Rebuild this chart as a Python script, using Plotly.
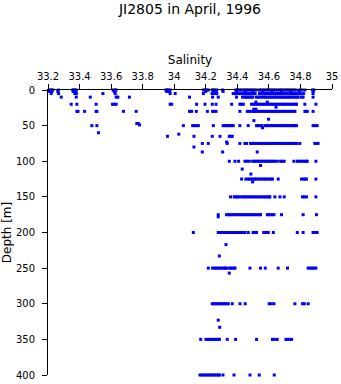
import plotly.graph_objects as go

# Salinity readings (PSU) at each sampled depth (m)
sal_d0 = [33.215,33.222,33.230,33.267,33.356,33.362,33.370,33.380,33.613,33.626,33.632,33.947,33.955,33.962,33.974,
          34.185,34.195,34.205,34.216,34.241,34.250,34.258,34.270,34.307,34.390,34.401,34.412,34.424,34.436,34.447,
          34.459,34.470,34.482,34.494,34.506,34.520,34.540,34.551,34.563,34.574,34.586,34.597,34.609,34.620,34.632,
          34.643,34.655,34.667,34.678,34.690,34.701,34.713,34.725,34.736,34.748,34.760,34.772,34.796,34.810,34.828,
          34.876,34.885]
sal_d2 = [33.205,33.225,33.262,33.360,33.375,33.620,33.952,33.968,34.200,34.250,34.265,34.310,34.395,34.450,34.500,
          34.560,34.620,34.680,34.740,34.790,34.880]
sal_d5 = [33.195,33.220,33.267,33.370,33.380,33.548,33.626,33.974,34.006,34.185,34.240,34.255,34.270,34.374,34.385,
          34.396,34.408,34.419,34.431,34.443,34.454,34.466,34.478,34.489,34.501,34.513,34.540,34.552,34.563,34.575,
          34.587,34.598,34.610,34.622,34.633,34.645,34.657,34.668,34.680,34.692,34.703,34.715,34.727,34.738,34.750,
          34.762,34.773,34.785,34.800,34.820,34.880]
sal_d10 = [33.284,33.379,33.468,33.632,33.643,33.716,34.097,34.243,34.279,34.395,34.433,34.445,34.455,34.465,34.476,
           34.487,34.497,34.520,34.532,34.543,34.555,34.567,34.578,34.590,34.602,34.613,34.625,34.637,34.648,34.660,
           34.672,34.683,34.695,34.707,34.718,34.730,34.742,34.753,34.765,34.777,34.786,34.807,34.817,34.880]
sal_d17 = [34.518,34.590]
sal_d20 = [33.347,33.383,33.505,33.609,33.620,33.632,33.974,33.984,34.142,34.195,34.241,34.265,34.364,34.416,34.427,
           34.438,34.490,34.502,34.513,34.525,34.537,34.548,34.560,34.572,34.583,34.595,34.607,34.618,34.630,34.642,
           34.653,34.665,34.677,34.688,34.700,34.712,34.723,34.735,34.747,34.758,34.770,34.775,34.828,34.898]
sal_d24 = [34.645]
sal_d27 = [34.505,34.518]
sal_d30 = [33.383,33.390,33.432,33.505,33.510,33.678,33.759,34.097,34.110,34.140,34.210,34.243,34.255,34.265,34.416,
           34.463,34.475,34.488,34.500,34.510,34.522,34.533,34.545,34.557,34.568,34.580,34.592,34.603,34.615,34.627,
           34.638,34.650,34.662,34.673,34.685,34.697,34.708,34.720,34.732,34.743,34.755,34.765,34.828,34.835,34.843,
           34.880]
sal_d41 = [34.598]
sal_d43 = [34.505]
sal_d47 = [33.763,33.772]
sal_d49 = [33.780]
sal_d50 = [33.478,33.510,34.058,34.117,34.127,34.140,34.153,34.248,34.310,34.320,34.331,34.342,34.352,34.363,34.374,
           34.416,34.469,34.522,34.532,34.543,34.554,34.575,34.587,34.598,34.610,34.622,34.633,34.645,34.657,34.668,
           34.680,34.692,34.703,34.712,34.722,34.733,34.745,34.756,34.766,34.775,34.880,34.893,34.906]
sal_d53 = [34.560]
sal_d60 = [33.520]
sal_d62 = [34.029]
sal_d65 = [33.957,34.125,34.241,34.290,34.349,34.358,34.368]
sal_d73 = [34.332]
sal_d75 = [34.178,34.216,34.336,34.416,34.448,34.459,34.484,34.496,34.507,34.519,34.531,34.542,34.554,34.566,34.577,
           34.589,34.601,34.612,34.624,34.638,34.653,34.665,34.677,34.688,34.700,34.712,34.722,34.733,34.745,34.757,
           34.768,34.775,34.796,34.891,34.902,34.912]
sal_d80 = [34.125]
sal_d87 = [34.178,34.307,34.526]
sal_d100 = [34.349,34.385,34.408,34.448,34.460,34.476,34.497,34.509,34.520,34.532,34.544,34.555,34.567,34.579,34.590,
            34.602,34.614,34.625,34.637,34.653,34.674,34.685,34.697,34.758,34.780,34.792,34.803,34.815,34.827,34.838,
            34.843,34.898]
sal_d106 = [34.547]
sal_d111 = [34.431]
sal_d118 = [34.486]
sal_d125 = [34.427,34.454,34.466,34.477,34.489,34.500,34.512,34.518,34.533,34.545,34.556,34.568,34.580,34.591,34.603,
            34.615,34.623,34.659,34.807,34.818,34.830,34.838,34.898]
sal_d129 = [34.497]
sal_d150 = [34.357,34.380,34.390,34.401,34.412,34.427,34.438,34.450,34.461,34.473,34.484,34.497,34.508,34.520,34.532,
            34.543,34.555,34.567,34.578,34.590,34.601,34.606,34.638,34.670,34.697,34.813,34.825,34.838,34.898]
sal_d175 = [34.279,34.332,34.342,34.353,34.364,34.375,34.387,34.399,34.410,34.422,34.434,34.445,34.457,34.469,34.480,
            34.492,34.504,34.515,34.527,34.539,34.547,34.590,34.600,34.611,34.622,34.632,34.680,34.817,34.902]
sal_d178 = [34.279]
sal_d200 = [34.121,34.279,34.290,34.302,34.314,34.325,34.337,34.349,34.360,34.372,34.384,34.395,34.407,34.419,34.430,
            34.442,34.448,34.469,34.500,34.511,34.522,34.568,34.580,34.596,34.628,34.780,34.817,34.880,34.893,34.906]
sal_d217 = [34.328]
sal_d233 = [34.286]
sal_d250 = [34.216,34.243,34.255,34.267,34.279,34.290,34.302,34.314,34.325,34.328,34.345,34.357,34.368,34.380,34.385,
            34.480,34.547,34.577,34.659,34.718,34.849,34.861,34.873,34.885,34.898]
sal_d257 = [34.349]
sal_d300 = [34.241,34.252,34.264,34.276,34.287,34.299,34.311,34.322,34.334,34.343,34.368,34.417,34.450,34.602,34.615,
            34.632,34.765,34.813,34.825,34.849]
sal_d323 = [34.279]
sal_d333 = [34.288]
sal_d350 = [34.168,34.201,34.213,34.225,34.236,34.248,34.260,34.271,34.283,34.286,34.336,34.389,34.522,34.623,34.635,
            34.653,34.708,34.720,34.732,34.744]
sal_d400 = [34.163,34.175,34.186,34.198,34.210,34.221,34.233,34.245,34.256,34.268,34.280,34.286,34.309,34.379,34.480,
            34.539,34.634]

levels = [(0, sal_d0), (2, sal_d2), (5, sal_d5), (10, sal_d10), (17, sal_d17), (20, sal_d20), (24, sal_d24),
          (27, sal_d27), (30, sal_d30), (41, sal_d41), (43, sal_d43), (47, sal_d47), (49, sal_d49), (50, sal_d50),
          (53, sal_d53), (60, sal_d60), (62, sal_d62), (65, sal_d65), (73, sal_d73), (75, sal_d75), (80, sal_d80),
          (87, sal_d87), (100, sal_d100), (106, sal_d106), (111, sal_d111), (118, sal_d118), (125, sal_d125),
          (129, sal_d129), (150, sal_d150), (175, sal_d175), (178, sal_d178), (200, sal_d200), (217, sal_d217),
          (233, sal_d233), (250, sal_d250), (257, sal_d257), (300, sal_d300), (323, sal_d323), (333, sal_d333),
          (350, sal_d350), (400, sal_d400)]

x_ticks = [33.2, 33.4, 33.6, 33.8, 34.0, 34.2, 34.4, 34.6, 34.8, 35.0]
x_tick_labels = ["33.2", "33.4", "33.6", "33.8", "34", "34.2", "34.4", "34.6", "34.8", "35"]
y_ticks = [0, 50, 100, 150, 200, 250, 300, 350, 400]

xs, ys = [], []
for d, sals in levels:
    xs.extend(sals)
    ys.extend([d] * len(sals))

fig = go.Figure(go.Scatter(
    x=xs, y=ys, mode="markers",
    marker=dict(symbol="square", size=3, color="#0000ff", line=dict(width=0)),
    cliponaxis=False, hoverinfo="x+y"))

font = "DejaVu Sans, Verdana, sans-serif"
fig.update_layout(
    width=341, height=384,
    margin=dict(l=48, r=9, t=90, b=9),
    paper_bgcolor="white", plot_bgcolor="white",
    showlegend=False,
    font=dict(family=font, size=10, color="black"),
    title=dict(text="JI2805 in April, 1996", x=0.5, xref="paper", xanchor="center",
               y=1 - 9 / 384, yref="container", yanchor="middle",
               font=dict(family=font, size=14, color="black")),
    xaxis=dict(range=[33.2, 35.0], side="top", tickvals=x_ticks, ticktext=x_tick_labels,
               ticks="outside", ticklen=5, tickcolor="black", tickwidth=1,
               showline=True, linecolor="black", linewidth=1, mirror=False,
               showgrid=False, zeroline=False, automargin=False,
               title=dict(text="Salinity", standoff=3)),
    yaxis=dict(range=[400, 0], tickvals=y_ticks,
               ticks="outside", ticklen=5, tickcolor="black", tickwidth=1,
               showline=True, linecolor="black", linewidth=1, mirror=False,
               showgrid=False, zeroline=False, ticklabelstandoff=5, automargin=False,
               title=dict(text="Depth [m]", standoff=4)),
)

fig.write_html("out.html")
